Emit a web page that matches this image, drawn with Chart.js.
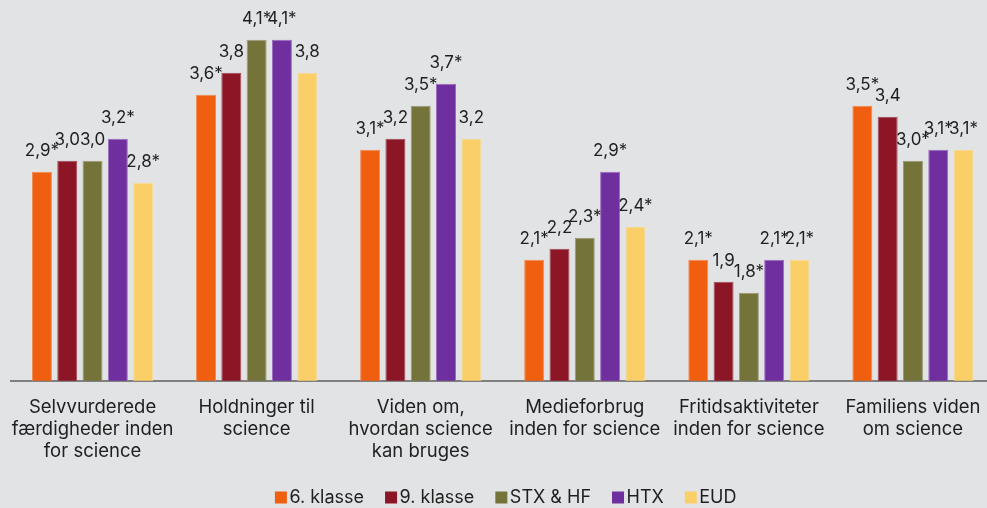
<!DOCTYPE html>
<html>
<head>
<meta charset="utf-8">
<script src="https://cdn.jsdelivr.net/npm/chart.js@4"></script>
<style>
  html, body { margin: 0; padding: 0; background: #e2e3e5; overflow: hidden; }
  #wrap { position: relative; width: 995px; height: 508px; }
</style>
</head>
<body>
<div id="wrap"><canvas id="chart"></canvas></div>
<script>
const categories = [
  ["Selvvurderede", "færdigheder inden", "for science"],
  ["Holdninger til", "science"],
  ["Viden om,", "hvordan science", "kan bruges"],
  ["Medieforbrug", "inden for science"],
  ["Fritidsaktiviteter", "inden for science"],
  ["Familiens viden", "om science"]
];
const seriesNames = ["6. klasse", "9. klasse", "STX & HF", "HTX", "EUD"];

const klasse6 = [2.9, 3.6, 3.1, 2.1, 2.1, 3.5];
const klasse9 = [3.0, 3.8, 3.2, 2.2, 1.9, 3.4];
const stxHf   = [3.0, 4.1, 3.5, 2.3, 1.8, 3.0];
const htx     = [3.2, 4.1, 3.7, 2.9, 2.1, 3.1];
const eud     = [2.8, 3.8, 3.2, 2.4, 2.1, 3.1];

// which values get the "*" marker
const star6   = [true, true, true, true, true, true];
const star9   = [false, false, false, false, false, false];
const starStx = [false, true, true, true, true, true];
const starHtx = [true, true, true, true, true, true];
const starEud = [true, false, false, true, true, true];

const fills   = ["#f05f10", "#8d1626", "#74733a", "#6f2f9e", "#fbcf68"];
const borders = ["#f08a55", "#a04a55", "#9a9a78", "#9a6cc0", "#fbdc98"];

const allValues = [klasse6, klasse9, stxHf, htx, eud];
const allStars = [star6, star9, starStx, starHtx, starEud];

const FONT = "Inter, 'Noto Sans', sans-serif";
const TEXT = "#1f1f1f";

// value labels above each bar, e.g. "2,9*"
const barLabels = {
  id: "barLabels",
  afterDatasetsDraw(chart) {
    const ctx = chart.ctx;
    ctx.save();
    ctx.font = "17px " + FONT;
    ctx.fillStyle = TEXT;
    ctx.textAlign = "center";
    ctx.textBaseline = "middle";
    chart.data.datasets.forEach((ds, i) => {
      const meta = chart.getDatasetMeta(i);
      meta.data.forEach((bar, j) => {
        const txt = ds.data[j].toFixed(1).replace(".", ",") + (allStars[i][j] ? "*" : "");
        ctx.fillText(txt, bar.x, bar.y - 21);
      });
    });
    ctx.restore();
  }
};

// compact legend row under the axis labels
const bottomLegend = {
  id: "bottomLegend",
  afterDraw(chart) {
    const ctx = chart.ctx;
    const box = 12, gap = 2.5, spacing = 21, midY = 497.5, centerX = 505.7;
    ctx.save();
    ctx.font = "18px " + FONT;
    ctx.textBaseline = "middle";
    ctx.textAlign = "left";
    const widths = chart.data.datasets.map(ds => ctx.measureText(ds.label).width);
    let total = widths.reduce((a, w) => a + box + gap + w, 0) + spacing * (widths.length - 1);
    let x = centerX - total / 2;
    chart.data.datasets.forEach((ds, i) => {
      ctx.fillStyle = fills[i];
      ctx.fillRect(x, midY - box / 2, box, box);
      ctx.fillStyle = TEXT;
      ctx.fillText(ds.label, x + box + gap, midY);
      x += box + gap + widths[i] + spacing;
    });
    ctx.restore();
  }
};

new Chart(document.getElementById("chart"), {
  type: "bar",
  data: {
    labels: categories,
    datasets: seriesNames.map((name, i) => ({
      label: name,
      data: allValues[i],
      backgroundColor: fills[i],
      borderColor: borders[i],
      borderWidth: 1,
      categoryPercentage: 0.771,
      barPercentage: 0.79
    }))
  },
  options: {
    responsive: true,
    maintainAspectRatio: false,
    animation: false,
    layout: { padding: { top: 6.7, left: 10.5, right: 0, bottom: 0 } },
    plugins: {
      tooltip: { enabled: false },
      legend: { display: false }
    },
    scales: {
      x: {
        grid: { display: false, drawTicks: false },
        border: { display: true, color: "#808080", width: 2 },
        ticks: {
          color: TEXT,
          font: { family: FONT, size: 18.5, lineHeight: 1.19 },
          padding: 15.5,
          maxRotation: 0,
          autoSkip: false
        },
        afterFit(scale) {
          scale.height = 127.3;
          scale.paddingLeft = 0;
          scale.paddingRight = 0;
        }
      },
      y: {
        display: false,
        min: 1,
        max: 4.4
      }
    }
  },
  plugins: [barLabels, bottomLegend]
});
</script>
</body>
</html>
